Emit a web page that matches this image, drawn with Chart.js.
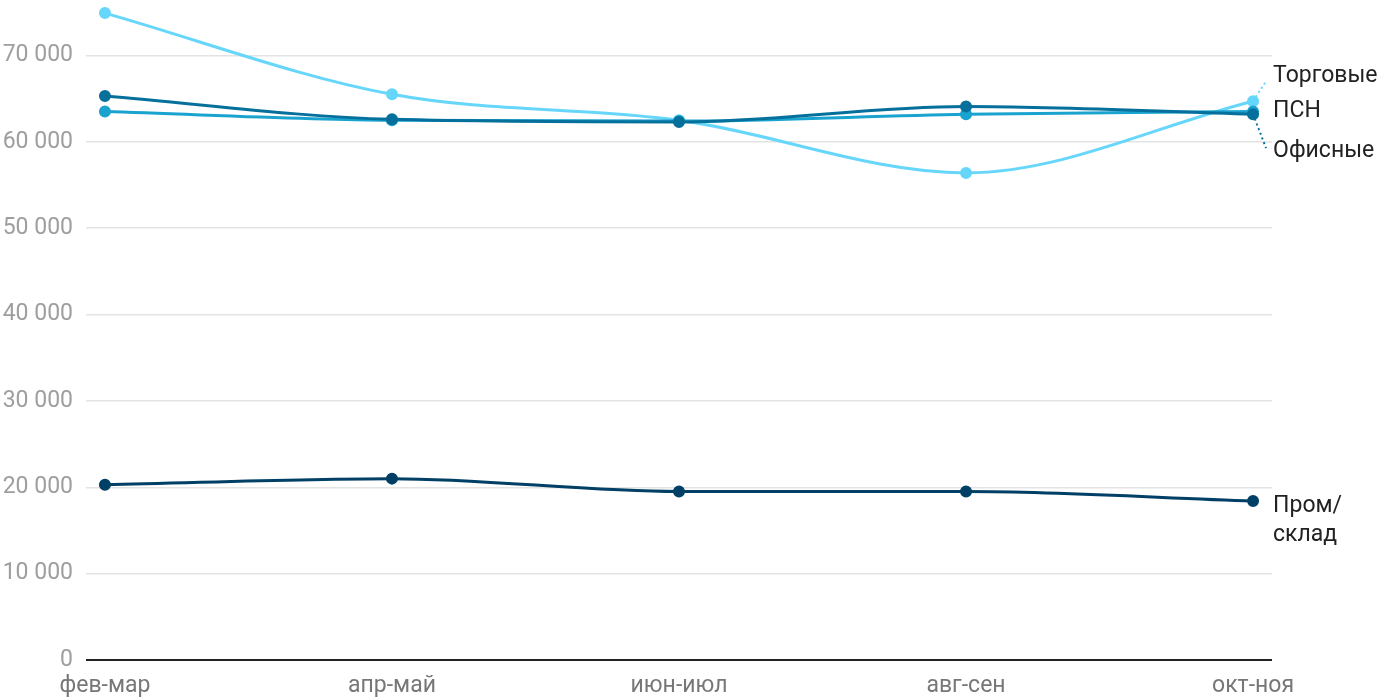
<!DOCTYPE html>
<html>
<head>
<meta charset="utf-8">
<script src="https://cdn.jsdelivr.net/npm/chart.js@4/dist/chart.umd.min.js"></script>
<style>
  html, body { margin: 0; padding: 0; background: #fff; }
  #wrap { width: 1400px; height: 700px; }
</style>
</head>
<body>
<div id="wrap"><canvas id="chart"></canvas></div>
<script>
// periods
const periods = ['фев-мар', 'апр-май', 'июн-июл', 'авг-сен', 'окт-ноя'];

// values, руб./кв.м
const torgovye = [74900, 65500, 62500, 56400, 64700];
const psn = [63500, 62500, 62400, 63200, 63500];
const ofisnye = [65300, 62600, 62300, 64100, 63200];
const promSklad = [20300, 21000, 19500, 19500, 18400];

const yTicks = [0, 10000, 20000, 30000, 40000, 50000, 60000, 70000];

const series = [
    { name: ['Торговые'], values: torgovye, color: '#66d6fb', dy: -25, leader: true },
    { name: ['ПСН'], values: psn, color: '#1ba3cf', dy: 0, leader: false },
    { name: ['Офисные'], values: ofisnye, color: '#06709c', dy: 37, leader: true },
    { name: ['Пром/', 'склад'], values: promSklad, color: '#003f66', dy: 5, leader: false }
];

const fmt = v => String(v).replace(/\B(?=(\d{3})+(?!\d))/g, ' ');

// labels to the right of the last points
const endLabels = {
    id: 'endLabels',
    afterDatasetsDraw(chart) {
        const ctx = chart.ctx;
        const xs = chart.scales.x, ys = chart.scales.y;
        const last = periods.length - 1;
        const px = xs.getPixelForValue(last);
        ctx.save();
        ctx.font = '23px Roboto';
        ctx.textBaseline = 'middle';
        ctx.textAlign = 'left';
        series.forEach(s => {
            const py = ys.getPixelForValue(s.values[last]);
            const ly = py + s.dy;
            if (s.leader) {
                ctx.strokeStyle = s.color;
                ctx.lineWidth = 2;
                ctx.setLineDash([2, 3]);
                ctx.beginPath();
                ctx.moveTo(px, py);
                ctx.lineTo(px + 13, ly + (s.dy < 0 ? 5 : -3));
                ctx.stroke();
                ctx.setLineDash([]);
            }
            ctx.fillStyle = '#222';
            s.name.forEach((t, i) => ctx.fillText(t, px + 20, ly + i * 29));
        });
        ctx.restore();
    }
};

new Chart(document.getElementById('chart'), {
    type: 'line',
    data: {
        datasets: series.map(s => ({
            label: s.name.join(' '),
            data: s.values.map((v, i) => ({ x: i, y: v })),
            borderColor: s.color,
            backgroundColor: s.color,
            borderWidth: 3,
            pointRadius: 4.5,
            pointHoverRadius: 4.5,
            cubicInterpolationMode: 'monotone',
            clip: false
        })).reverse()
    },
    options: {
        responsive: true,
        maintainAspectRatio: false,
        animation: false,
        layout: { padding: { top: 0, right: 128, left: 0, bottom: 0 } },
        plugins: { legend: { display: false }, tooltip: { enabled: false } },
        scales: {
            x: {
                type: 'linear',
                min: -0.066,
                max: 4.066,
                afterBuildTicks: s => { s.ticks = periods.map((p, i) => ({ value: i })); },
                afterFit: s => { s.height = 40; s.paddingLeft = 0; s.paddingRight = 0; },
                grid: { display: false },
                border: { display: false },
                ticks: {
                    callback: v => periods[v],
                    color: '#777',
                    font: { family: 'Roboto', size: 23 },
                    padding: 4,
                    maxRotation: 0
                }
            },
            y: {
                min: 0,
                max: 75550,
                afterBuildTicks: s => { s.ticks = yTicks.map(v => ({ value: v })); },
                afterFit: s => { s.width = 86; s.paddingTop = 0; s.paddingBottom = 0; },
                grid: {
                    drawTicks: false,
                    color: c => c.tick.value === 0 ? '#222' : '#e3e3e3',
                    lineWidth: c => c.tick.value === 0 ? 2 : 1.5
                },
                border: { display: false },
                ticks: {
                    callback: v => fmt(v),
                    color: '#9e9e9e',
                    font: { family: 'Roboto', size: 23 },
                    padding: 13
                }
            }
        }
    },
    plugins: [endLabels]
});
</script>
</body>
</html>
